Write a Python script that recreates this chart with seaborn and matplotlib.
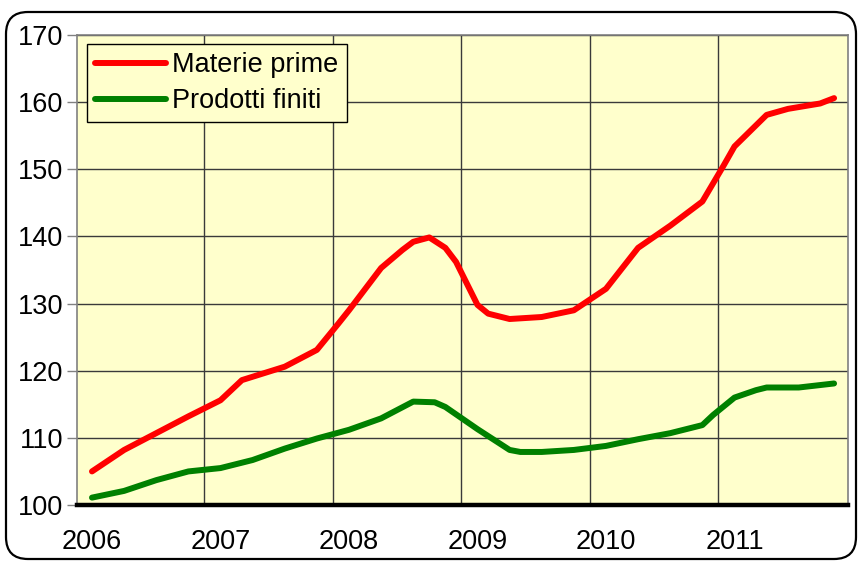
import numpy as np
import pandas as pd
import matplotlib
matplotlib.use('Agg')
import matplotlib.pyplot as plt
import seaborn as sns
from matplotlib.patches import FancyBboxPatch
from matplotlib.transforms import IdentityTransform

# Data (month index from Jan 2006)
red_months = [0, 3, 6, 9, 12, 14, 17, 18, 21, 23, 24, 27, 29, 30, 31.5, 33, 34, 36, 37, 39,
              42, 45, 48, 51, 54, 57, 59, 60, 63, 65, 68, 69.3]
red_values = [105.0, 108.2, 110.7, 113.2, 115.6, 118.6, 120.1, 120.6, 123.1, 127.0, 129.0, 135.3,
              138.0, 139.2, 139.85, 138.3, 136.2, 129.8, 128.5, 127.7,
              128.0, 129.0, 132.2, 138.3, 141.6, 145.2, 150.6, 153.4, 158.1, 159.0, 159.8, 160.6]

green_months = [0, 3, 6, 9, 12, 15, 18, 21, 24, 27, 30, 32, 33, 36, 39, 40, 42, 45, 48, 51,
                54, 57, 58, 60, 62, 63, 66, 69.3]
green_values = [101.1, 102.1, 103.7, 105.0, 105.5, 106.7, 108.4, 109.9, 111.2, 112.9, 115.4, 115.3,
                114.6, 111.3, 108.2, 107.9, 107.9, 108.2, 108.8, 109.8,
                110.7, 111.9, 113.4, 116.0, 117.1, 117.5, 117.5, 118.1]

series_names = ['Materie prime', 'Prodotti finiti']
year_labels = ['2006', '2007', '2008', '2009', '2010', '2011']
y_ticks = [100, 110, 120, 130, 140, 150, 160, 170]

df = pd.concat([
    pd.DataFrame({'mese': red_months, 'valore': red_values, 'serie': series_names[0]}),
    pd.DataFrame({'mese': green_months, 'valore': green_values, 'serie': series_names[1]}),
])

sns.set_style('white', {'axes.facecolor': '#FFFFCC'})
plt.rcParams['font.family'] = ['Liberation Sans', 'DejaVu Sans']
plt.rcParams['text.color'] = 'black'

fs = 19.5

fig = plt.figure(figsize=(8.59, 5.62), dpi=100)
ax = fig.add_axes([77 / 859, 57 / 562, 771 / 859, 470 / 562])

sns.lineplot(data=df, x='mese', y='valore', hue='serie', palette=['#FF0000', '#008000'],
             estimator=None, linewidth=4.3, solid_capstyle='round', ax=ax, zorder=3)

ax.set_xlim(-1.4, 70.6)
ax.set_ylim(100, 170)
ax.set_xticks([0, 12, 24, 36, 48, 60])
ax.set_xticklabels(year_labels)
ax.set_xticks([10.5, 22.5, 34.5, 46.5, 58.5], minor=True)
ax.set_yticks(y_ticks)
ax.set_xlabel('')
ax.set_ylabel('')

ax.grid(which='minor', axis='x', color='#3a3a3a', linewidth=1.0)
ax.grid(which='major', axis='y', color='#3a3a3a', linewidth=1.0)
ax.set_axisbelow(True)

ax.tick_params(axis='x', which='both', length=0, pad=17, labelsize=fs, labelcolor='black')
ax.tick_params(axis='y', length=7, width=1, color='#808080', direction='out', pad=3,
               labelsize=fs, labelcolor='black', left=True)

for side in ['left', 'top', 'right']:
    ax.spines[side].set_visible(True)
    ax.spines[side].set_color('#808080')
    ax.spines[side].set_linewidth(1.2)
ax.spines['bottom'].set_color('black')
ax.spines['bottom'].set_linewidth(3.2)

handles, labels = ax.get_legend_handles_labels()
leg = ax.legend(handles, labels, loc='upper left', bbox_to_anchor=(0.013, 0.981),
                borderaxespad=0, fontsize=fs, frameon=True, fancybox=False,
                edgecolor='black', framealpha=1, borderpad=0.3, labelspacing=0.38,
                handlelength=2.6, handletextpad=0.25)
leg.get_frame().set_linewidth(1.0)
for line in leg.get_lines():
    line.set_linewidth(4.3)
    line.set_solid_capstyle('round')
for t in leg.get_texts():
    t.set_color('black')

# outer rounded border
border = FancyBboxPatch((6, 3), 850, 547, boxstyle='round,pad=0,rounding_size=22',
                        transform=IdentityTransform(), facecolor='none',
                        edgecolor='black', linewidth=1.6)
fig.add_artist(border)

fig.savefig('out.png', dpi=100)
